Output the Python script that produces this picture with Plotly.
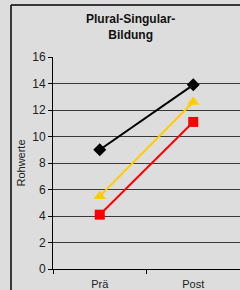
import plotly.graph_objects as go

categories = ["Prä", "Post"]
series_black = [9.0, 13.9]
series_yellow = [5.5, 12.6]
series_red = [4.1, 11.1]
y_ticks = [0, 2, 4, 6, 8, 10, 12, 14, 16]

fig = go.Figure()
fig.add_trace(go.Scatter(x=categories, y=series_black, mode="lines+markers",
                         line=dict(color="black", width=2),
                         marker=dict(symbol="diamond", size=10, color="black")))
fig.add_trace(go.Scatter(x=categories, y=series_yellow, mode="lines+markers",
                         line=dict(color="#ffcc00", width=2),
                         marker=dict(symbol="triangle-up", size=11, color="#ffcc00")))
fig.add_trace(go.Scatter(x=categories, y=series_red, mode="lines+markers",
                         line=dict(color="red", width=2),
                         marker=dict(symbol="square", size=10, color="red")))

fig.update_layout(
    width=240, height=290, autosize=False,
    margin=dict(l=53, r=0, t=57, b=21, pad=0),
    paper_bgcolor="#dddddd", plot_bgcolor="#dddddd",
    showlegend=False,
    font=dict(family="Liberation Sans, Arial", color="#222222", size=11),
)
fig.update_xaxes(type="category", range=[-0.5, 1.5], showgrid=False,
                 showline=True, linecolor="black", linewidth=1,
                 ticks="outside", tickson="boundaries", ticklen=4, tickcolor="black",
                 tickfont=dict(size=11), ticklabelstandoff=5, zeroline=False)
fig.update_yaxes(range=[0, 16], tickvals=y_ticks, showgrid=True, gridcolor="#3a3a3a", gridwidth=1,
                 showline=True, linecolor="black", linewidth=1,
                 ticks="outside", ticklen=4, tickcolor="black",
                 tickfont=dict(size=12), zeroline=False,
                 title=dict(text="Rohwerte", font=dict(size=11), standoff=4))
bx0 = (11 - 53) / 187
by1 = 1 + 52 / 212
fig.add_shape(type="line", xref="paper", yref="paper", x0=bx0, x1=bx0, y0=-0.3, y1=by1,
              line=dict(color="black", width=1.5))
fig.add_shape(type="line", xref="paper", yref="paper", x0=bx0, x1=1.1, y0=by1, y1=by1,
              line=dict(color="black", width=1.5))
fig.add_annotation(text="<b>Plural-Singular-<br>Bildung</b>", xref="paper", yref="paper",
                   x=(130 - 53) / 187, y=1 + (57 - 27) / 212, showarrow=False,
                   font=dict(size=12, color="#111111"), xanchor="center", yanchor="middle")
fig.write_html("out.html", config={"displayModeBar": False, "responsive": False},
               post_script="document.body.style.margin='0';document.body.style.overflow='hidden';"
                           "document.documentElement.style.overflow='hidden';")
